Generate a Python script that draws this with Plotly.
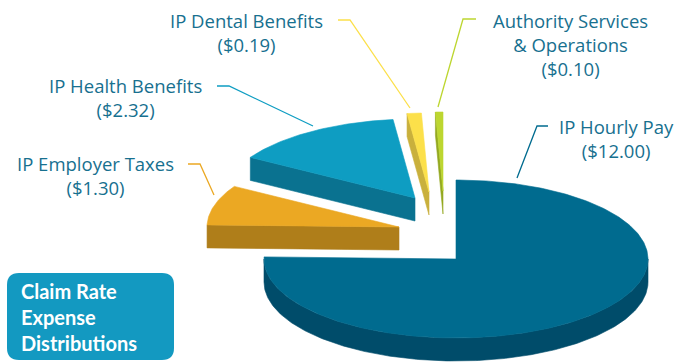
import numpy as np
import plotly.graph_objects as go

# ---------------- data ----------------
labels = ["IP Hourly Pay", "IP Employer Taxes", "IP Health Benefits",
          "IP Dental Benefits", "Authority Services<br>& Operations"]
values = [12.00, 1.30, 2.32, 0.19, 0.10]
top_colors = ["#006B8F", "#EBA823", "#0E9DC2", "#FCE04A", "#BDD630"]
side_colors = ["#004C6A", "#AF7E1A", "#0A7290", "#C9B03C", "#93A820"]
title_lines = ["Claim Rate", "Expense", "Distributions"]

# ---------------- layout constants (pixels) ----------------
W, H = 680, 362
RX, RY, DEPTH = 192, 79, 23
centers = [(456, 259), (399, 227), (415, 198), (429, 192), (443, 191)]
# label anchor (x centre, first-line y) and leader line paths
label_pos = [(616, 126), (95, 163), (125, 85), (246, 20), (570, 20)]
leaders = [
    [(548, 126), (537, 126), (517, 178)],
    [(188, 164), (200, 164), (214, 195)],
    [(217, 86), (229, 86), (313, 126)],
    [(338, 20), (350, 20), (410, 108)],
    [(476, 19), (463, 19), (438, 107)],
]
TEXT_COLOR = "#17708F"
LABEL_SIZE = 18.5
TITLE_SIZE = 20

total = sum(values)
cum = np.concatenate([[0], np.cumsum(values)]) / total * 360.0


def pt(cx, cy, th, dy=0.0):
    r = np.radians(th)
    return cx + RX * np.sin(r), cy - RY * np.cos(r) + dy


def arc(cx, cy, a, b, dy=0.0, n=120):
    ths = np.linspace(a, b, max(3, int(n * (b - a) / 90) + 3))
    xs, ys = pt(cx, cy, ths, dy)
    return list(xs), list(ys)


fig = go.Figure()


def poly(xs, ys, color):
    fig.add_trace(go.Scatter(x=xs + [xs[0]], y=ys + [ys[0]], mode="lines",
                             fill="toself", fillcolor=color,
                             line=dict(color=color, width=0.6),
                             hoverinfo="skip", showlegend=False))


order = sorted(range(len(values)), key=lambda i: centers[i][1])
for i in order:
    cx, cy = centers[i]
    a, b = cum[i], cum[i + 1]
    # radial face at start angle
    if np.sin(np.radians(a)) < -1e-6:
        px, py = pt(cx, cy, a)
        poly([cx, px, px, cx], [cy, py, py + DEPTH, cy + DEPTH], side_colors[i])
    # radial face at end angle
    if np.sin(np.radians(b)) > 1e-6:
        px, py = pt(cx, cy, b)
        poly([cx, px, px, cx], [cy, py, py + DEPTH, cy + DEPTH], side_colors[i])
    # curved outer side (front half)
    lo, hi = max(a, 90.0), min(b, 270.0)
    if hi > lo:
        xs1, ys1 = arc(cx, cy, lo, hi)
        xs2, ys2 = arc(cx, cy, lo, hi, DEPTH)
        poly(xs1 + xs2[::-1], ys1 + ys2[::-1], side_colors[i])
    # top face
    xs, ys = arc(cx, cy, a, b)
    poly([cx] + xs, [cy] + ys, top_colors[i])

shapes = []
for i, path in enumerate(leaders):
    d = "M " + " L ".join(f"{x},{y}" for x, y in path)
    shapes.append(dict(type="path", path=d, xref="x", yref="y",
                       line=dict(color=top_colors[i], width=1.3)))

# title box with rounded corners
x0, y0, x1, y1, r = 7, 273, 174, 360, 12
box = (f"M {x0+r},{y0} L {x1-r},{y0} Q {x1},{y0} {x1},{y0+r} "
       f"L {x1},{y1-r} Q {x1},{y1} {x1-r},{y1} L {x0+r},{y1} "
       f"Q {x0},{y1} {x0},{y1-r} L {x0},{y0+r} Q {x0},{y0} {x0+r},{y0} Z")
shapes.append(dict(type="path", path=box, xref="x", yref="y",
                   fillcolor="#1399C1", line=dict(width=0), layer="above"))

annotations = []
gap = 1.3 * LABEL_SIZE
for i, lab in enumerate(labels):
    lines = lab.split("<br>") + [f"(${values[i]:.2f})"]
    lx, ly = label_pos[i]
    annotations.append(dict(x=lx, y=ly + (len(lines) - 1) * gap / 2,
                            text="<br>".join(lines), showarrow=False,
                            xanchor="center", yanchor="middle", align="center",
                            font=dict(family="Open Sans", size=LABEL_SIZE,
                                      color=TEXT_COLOR)))
annotations.append(dict(x=19, y=(y0 + y1) / 2, text="<br>".join(title_lines),
                        showarrow=False, xanchor="left", yanchor="middle",
                        align="left",
                        font=dict(family="Lato", size=TITLE_SIZE, color="white",
                                  weight=700)))

fig.update_layout(
    width=W, height=H, margin=dict(l=0, r=0, t=0, b=0),
    paper_bgcolor="white", plot_bgcolor="white",
    xaxis=dict(range=[0, W], visible=False, fixedrange=True),
    yaxis=dict(range=[H, 0], visible=False, fixedrange=True),
    shapes=shapes, annotations=annotations, showlegend=False,
)
fig.write_html("out.html")
